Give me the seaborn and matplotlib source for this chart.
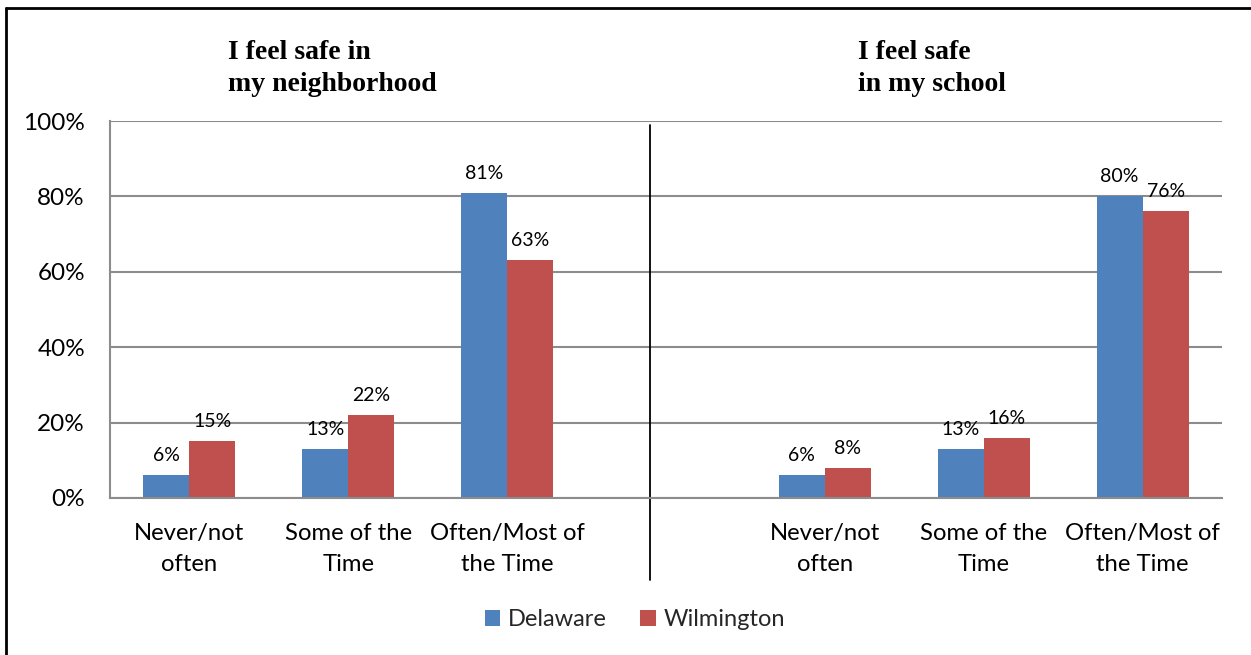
import matplotlib
matplotlib.use("Agg")
import matplotlib.pyplot as plt
from matplotlib.lines import Line2D
import seaborn as sns
import pandas as pd

# ---- data ----
category_keys = ["n_never", "n_some", "n_often", "gap", "s_never", "s_some", "s_often"]
tick_labels = ["Never/not\noften", "Some of the\nTime", "Often/Most of\nthe Time", "",
               "Never/not\noften", "Some of the\nTime", "Often/Most of\nthe Time"]
series_names = ["Delaware", "Wilmington"]
delaware = [6, 13, 81, None, 6, 13, 80]
wilmington = [15, 22, 63, None, 8, 16, 76]
panel_titles = ["I feel safe in\nmy neighborhood", "I feel safe\nin my school"]
y_ticks = [0, 20, 40, 60, 80, 100]
colors = ["#4F81BD", "#C0504D"]

rows = []
for k, d, w in zip(category_keys, delaware, wilmington):
    if d is not None:
        rows.append({"cat": k, "series": series_names[0], "value": d})
        rows.append({"cat": k, "series": series_names[1], "value": w})
df = pd.DataFrame(rows)

sns.set_theme(style="white")
plt.rcParams["font.family"] = ["Lato", "DejaVu Sans"]

W, H = 1251, 655
fig = plt.figure(figsize=(W / 100, H / 100), dpi=100)
ax = fig.add_axes([110 / W, 1 - 498 / H, (1222 - 110) / W, (498 - 121) / H])

sns.barplot(data=df, x="cat", y="value", hue="series", order=category_keys,
            hue_order=series_names, palette=colors, width=0.58, saturation=1,
            errorbar=None, ax=ax, linewidth=0)

ax.set_ylim(0, 100)
ax.set_xlim(-0.5, len(category_keys) - 0.5)
ax.set_yticks(y_ticks)
ax.set_yticklabels([f"{v}%" for v in y_ticks], fontsize=17.5, color="#000000")
ax.set_xticks(range(len(category_keys)))
ax.set_xticklabels(tick_labels, fontsize=17.2, color="#000000", linespacing=1.58)
ax.tick_params(axis="both", length=0)
ax.tick_params(axis="x", pad=18)
ax.tick_params(axis="y", pad=18)
ax.set_xlabel("")
ax.set_ylabel("")

ax.yaxis.grid(True, color="#8C8C8C", linewidth=1.5)
ax.set_axisbelow(True)
for s in ["top", "right"]:
    ax.spines[s].set_visible(False)
for s in ["left", "bottom"]:
    ax.spines[s].set_color("#8C8C8C")
    ax.spines[s].set_linewidth(1.5)

for cont in ax.containers:
    ax.bar_label(cont, fmt="%.0f%%", padding=8, fontsize=14, color="#000000")

# divider between the two panels
ax.axvline(2.9, ymin=-0.217, ymax=0.99, color="black", linewidth=1.3, clip_on=False)

# panel titles
for txt, xpx in zip(panel_titles, [228, 858]):
    fig.text(xpx / W, 1 - 40 / H, txt, fontsize=20, fontweight="bold",
             family="Liberation Serif", color="#000000", va="top", ha="left",
             linespacing=1.38)

# legend
handles, labels = ax.get_legend_handles_labels()
if ax.get_legend() is not None:
    ax.get_legend().remove()
fig.legend(handles, labels, loc="center", bbox_to_anchor=(635 / W, 1 - 620 / H),
           ncol=2, frameon=False, fontsize=17, handlelength=0.65, handleheight=0.65,
           handletextpad=0.35, columnspacing=1.4)

# outer frame (left and top edges)
fig.add_artist(Line2D([6 / W, 6 / W], [0, 1 - 8 / H], color="black", linewidth=2,
                      transform=fig.transFigure))
fig.add_artist(Line2D([6 / W, 1], [1 - 8 / H, 1 - 8 / H], color="black", linewidth=2,
                      transform=fig.transFigure))

fig.savefig("out.png", dpi=100, facecolor="white")
